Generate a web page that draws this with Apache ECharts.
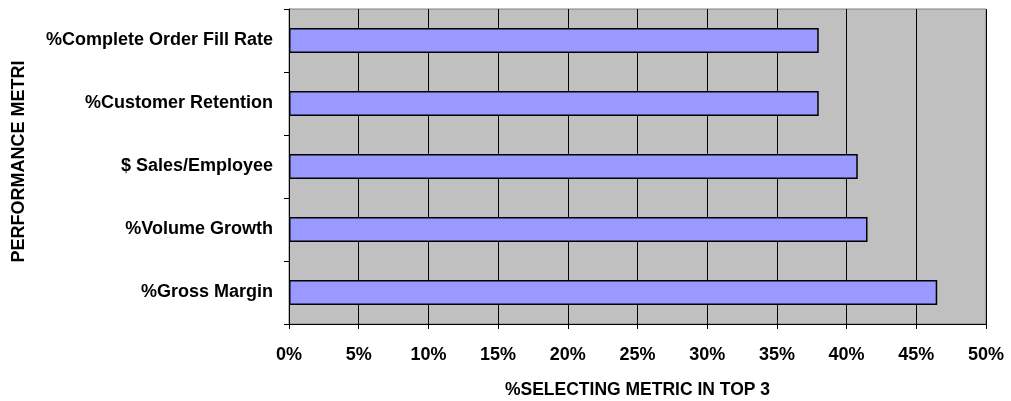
<!DOCTYPE html>
<html>
<head>
<meta charset="utf-8">
<script src="https://cdn.jsdelivr.net/npm/echarts@6/dist/echarts.min.js"></script>
<style>
  html, body { margin: 0; padding: 0; background: #ffffff; }
  #chart { width: 1011px; height: 401px; }
</style>
</head>
<body>
<div id="chart"></div>
<script>
// Performance metrics, listed bottom to top
const metrics = [
  '%Gross Margin',
  '%Volume Growth',
  '$ Sales/Employee',
  '%Customer Retention',
  '%Complete Order Fill Rate'
];
// Share of respondents placing each metric in their top 3 (%)
const pctSelecting = [46.5, 41.5, 40.8, 38.0, 38.0];
const xTicks = { min: 0, max: 50, interval: 5 };

const font = '"Liberation Sans", Arial, sans-serif';
const chart = echarts.init(document.getElementById('chart'));
chart.setOption({
  animation: false,
  backgroundColor: '#ffffff',
  grid: {
    left: 289, right: 25, top: 9, bottom: 77,
    outerBoundsMode: 'none',
    show: true, backgroundColor: '#c0c0c0', borderColor: '#808080', borderWidth: 1
  },
  xAxis: {
    type: 'value',
    min: xTicks.min, max: xTicks.max, interval: xTicks.interval,
    name: '%SELECTING METRIC IN TOP 3',
    nameLocation: 'middle',
    nameGap: 57,
    nameTextStyle: { fontFamily: font, fontWeight: 'bold', fontSize: 17.5, color: '#000' },
    axisLine: { show: true, lineStyle: { color: '#000', width: 1 } },
    axisTick: { show: true, length: 5, lineStyle: { color: '#000' } },
    axisLabel: {
      formatter: '{value}%', margin: 22,
      fontFamily: font, fontWeight: 'bold', fontSize: 18, color: '#000'
    },
    splitLine: { show: true, lineStyle: { color: '#000', width: 1 } }
  },
  yAxis: {
    type: 'category',
    data: metrics,
    name: 'PERFORMANCE METRI',
    nameLocation: 'middle',
    nameRotate: 90,
    nameGap: 261,
    nameTextStyle: {
      fontFamily: font, fontWeight: 'bold', fontSize: 18, color: '#000',
      padding: [0, 0, 0, 10]
    },
    axisLine: { show: true, lineStyle: { color: '#000', width: 1 } },
    axisTick: { show: true, length: 5, inside: false, lineStyle: { color: '#000' } },
    axisLabel: { margin: 16, fontFamily: font, fontWeight: 'bold', fontSize: 18, color: '#000' },
    splitLine: { show: false }
  },
  series: [{
    type: 'bar',
    data: pctSelecting,
    barWidth: 25,
    itemStyle: { color: '#9999ff', borderColor: '#000', borderWidth: 1.5 }
  }]
});
</script>
</body>
</html>
